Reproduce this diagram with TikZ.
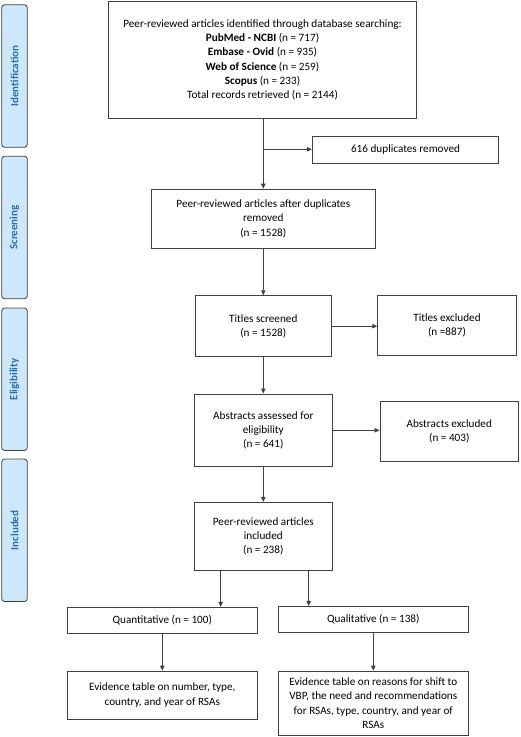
\documentclass[tikz,border=0pt]{standalone}
\usepackage{fontspec}
\setmainfont{Carlito}
\usetikzlibrary{arrows.meta,positioning}
\definecolor{phasefill}{RGB}{206,232,251}
\definecolor{phasetext}{RGB}{40,110,180}
\definecolor{linegrey}{RGB}{64,64,64}
\tikzset{
    %Define standard arrow tip
    >={Triangle[length=5pt,width=4.5pt]},
    %Define style for boxes
    punktrect/.style={
           rectangle,
           draw=linegrey, line width=0.9pt,
           inner sep=1pt,
           align=center,
           font=\fontsize{11.2}{14.3}\selectfont},
    %Define style for phase labels
    phase/.style={
           rectangle,
           rotate=90,
           rounded corners=3pt,
           fill=phasefill,
           draw=linegrey, line width=0.8pt,
           minimum width=142.5pt,
           minimum height=25.6pt,
           text=phasetext,
           font=\bfseries\fontsize{11}{12}\selectfont},
    % Define arrow style
    pil/.style={
           ->,
           draw=linegrey,
           line width=0.9pt}
}
\begin{document}
\begin{tikzpicture}[x=1pt,y=-1pt]
\useasboundingbox (0,0) rectangle (520,737);
 %phases
\node[phase] (ident) at (14.5,76) {Identification};
\node[phase] (screen) at (14.5,227.5) {Screening};
\node[phase] (elig) at (14.5,379.3) {Eligibility};
\node[phase] (incl) at (14.5,530.3) {Included};

 %nodes
\node[punktrect, minimum width=307.6pt, minimum height=116.6pt] (search) at (262.5,60)
  {Peer-reviewed articles identified through database searching:\\
   \textbf{PubMed - NCBI} (n = 717)\\
   \textbf{Embase - Ovid} (n = 935)\\
   \textbf{Web of Science} (n = 259)\\
   \textbf{Scopus} (n = 233)\\
   Total records retrieved (n = 2144)};
\node[punktrect, minimum width=186.4pt, minimum height=27.3pt] (dup) at (405.5,149.7)
  {616 duplicates removed};
\node[punktrect, minimum width=223.4pt, minimum height=59.3pt] (nodup) at (263.3,218.7)
  {Peer-reviewed articles after duplicates\\ removed\\ (n = 1528)};
\node[punktrect, minimum width=135.4pt, minimum height=61pt] (titles) at (263.3,326.2)
  {Titles screened\\ (n = 1528)};
\node[punktrect, minimum width=138.6pt, minimum height=60pt] (titlesex) at (447,325.7)
  {Titles excluded\\ (n =887)};
\node[punktrect, minimum width=138.3pt, minimum height=72.7pt] (abstr) at (263.3,430.3)
  {Abstracts assessed for\\ eligibility\\ (n = 641)};
\node[punktrect, minimum width=138.7pt, minimum height=60.7pt] (abstrex) at (449.3,431.3)
  {Abstracts excluded\\ (n = 403)};
\node[punktrect, minimum width=138.3pt, minimum height=68pt] (included) at (263.3,536.3)
  {Peer-reviewed articles\\ included\\ (n = 238)};
\node[punktrect, minimum width=190pt, minimum height=26pt] (quant) at (162.3,620.3)
  {Quantitative (n = 100)};
\node[punktrect, minimum width=190pt, minimum height=26pt] (qual) at (373.3,619.3)
  {Qualitative (n = 138)};
\node[punktrect, minimum width=190pt, minimum height=48pt] (evquant) at (162.3,695)
  {Evidence table on number, type,\\ country, and year of RSAs};
\node[punktrect, minimum width=190pt, minimum height=64.3pt] (evqual) at (373.3,703.2)
  {Evidence table on reasons for shift to\\ VBP, the need and recommendations\\ for RSAs, type, country, and year of\\ RSAs};

 %connectors
\coordinate (split) at (263.3,149.3);
\coordinate (inclL) at (220.7,570.3);
\coordinate (inclR) at (308.7,570.3);
\draw[pil] (search.south -| nodup.north) -- (nodup.north);
\draw[pil] (split) -- (dup.west |- split);
\draw[pil] (nodup) -- (titles);
\draw[pil] (titles.east) -- (titlesex.west |- titles.east);
\draw[pil] (titles) -- (abstr);
\draw[pil] (abstr.east) -- (abstrex.west |- abstr.east);
\draw[pil] (abstr) -- (included);
\draw[pil] (inclL) -- (quant.north -| inclL);
\draw[pil] (inclR) -- (qual.north -| inclR);
\draw[pil] (quant) -- (evquant);
\draw[pil] (qual) -- (evqual);
\end{tikzpicture}
\end{document}
